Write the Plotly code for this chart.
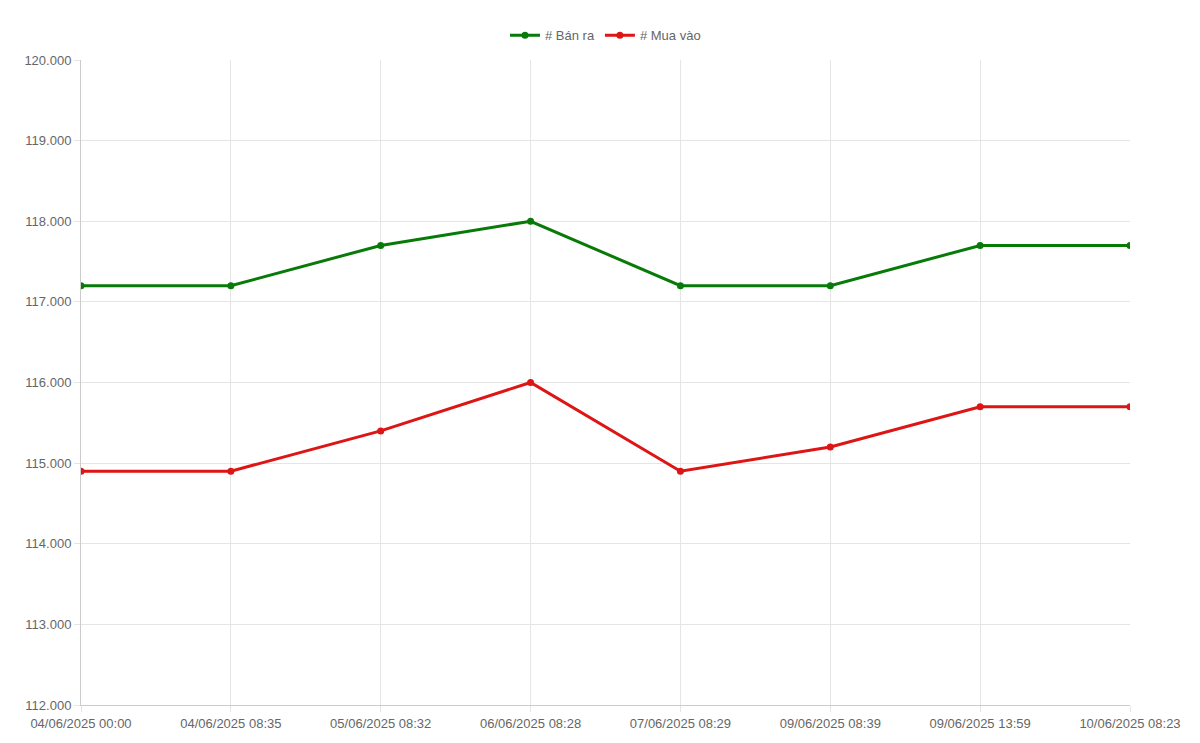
import plotly.graph_objects as go

labels = ["04/06/2025 00:00", "04/06/2025 08:35", "05/06/2025 08:32", "06/06/2025 08:28",
          "07/06/2025 08:29", "09/06/2025 08:39", "09/06/2025 13:59", "10/06/2025 08:23"]
ban_ra = [117200, 117200, 117700, 118000, 117200, 117200, 117700, 117700]
mua_vao = [114900, 114900, 115400, 116000, 114900, 115200, 115700, 115700]

fig = go.Figure()
fig.add_trace(go.Scatter(x=labels, y=ban_ra, name="# Bán ra", mode="lines+markers",
                         line=dict(color="#087a08", width=3), marker=dict(size=7, color="#087a08")))
fig.add_trace(go.Scatter(x=labels, y=mua_vao, name="# Mua vào", mode="lines+markers",
                         line=dict(color="#dd1515", width=3), marker=dict(size=7, color="#dd1515")))
fig.update_layout(
    width=1200, height=743, paper_bgcolor="white", plot_bgcolor="white",
    margin=dict(l=73, r=78, t=36, b=46),
    separators=",.",
    font=dict(family="Liberation Sans, Arial", size=13, color="#666"),
    legend=dict(orientation="h", x=0.5, xanchor="center", y=1.015, yanchor="bottom",
                font=dict(size=13, color="#666")),
    showlegend=True,
)
fig.update_xaxes(type="category", range=[0, 7], showgrid=True, gridcolor="#e5e5e5",
                 showline=True, linecolor="#ccc", ticks="outside", ticklen=6, tickcolor="#e5e5e5",
                 tickfont=dict(size=13, color="#666"))
fig.update_yaxes(range=[112000, 120000], dtick=1000, tickformat=",.0f", showgrid=True,
                 gridcolor="#e5e5e5", showline=True, linecolor="#ccc", ticks="outside",
                 ticklen=6, tickcolor="#e5e5e5", zeroline=False, tickfont=dict(size=13, color="#666"))
fig.write_html("out.html")
